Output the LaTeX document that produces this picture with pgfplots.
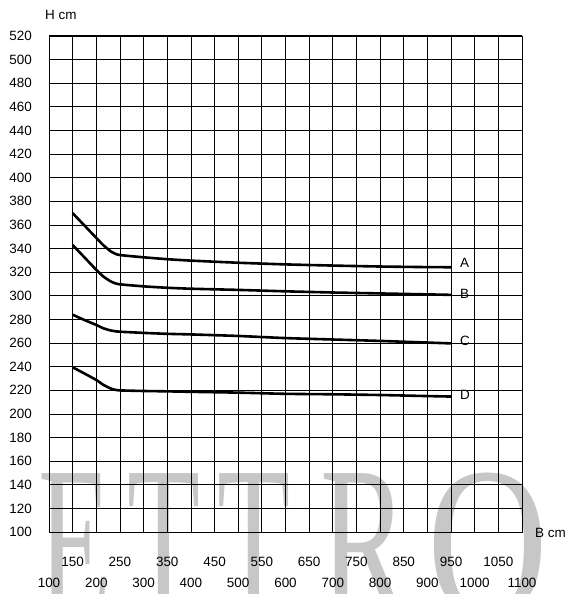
\documentclass[border=0pt]{standalone}
\usepackage{pgfplots}
\pgfplotsset{compat=1.18}
\usepackage{fontspec}
\setmainfont{Liberation Sans}
\newfontfamily\wmfont{Liberation Serif}
\newcommand{\low}[1]{\raisebox{-21bp}[\height][0pt]{#1}}
\begin{document}
\fontsize{13.5}{16}\selectfont
\begin{tikzpicture}
% watermark
\begin{scope}[every node/.style={anchor=north west, inner sep=0pt, text=black!22}]
\node at (-11bp,59bp) {\scalebox{1}[1.8]{\wmfont\fontsize{120}{120}\selectfont E}};
\node at (78bp,59bp) {\scalebox{1}[1.8]{\wmfont\fontsize{120}{120}\selectfont T}};
\node at (168bp,59bp) {\scalebox{1}[1.8]{\wmfont\fontsize{120}{120}\selectfont T}};
\node at (271bp,59bp) {\scalebox{1.1}[1.8]{\wmfont\fontsize{120}{120}\selectfont R}};
\node at (378bp,59bp) {\scalebox{1.4}[1.8]{\wmfont\fontsize{120}{120}\selectfont O}};
\end{scope}
\begin{axis}[
  scale only axis,
  width=473bp, height=496bp,
  at={(0,0)}, anchor=south west,
  xmin=100, xmax=1100, ymin=100, ymax=520,
  xtick={100,150,...,1100},
  xticklabels={\low{100},150,\low{200},250,\low{300},350,\low{400},450,\low{500},550,\low{600},650,\low{700},750,\low{800},850,\low{900},950,\low{1000},1050,\low{1100}},
  ytick={100,120,...,520},
  grid=major,
  major grid style={black, line width=0.8pt},
  axis line style={black, line width=0.8pt},
  major tick length=0pt,
  /pgf/number format/1000 sep={},
  /pgf/number format/assume math mode=true,
  every tick label/.append style={font=\fontsize{13.5}{16}\selectfont},
  xticklabel style={anchor=north, inner sep=0pt, yshift=-25bp},
  yticklabel style={anchor=east, inner sep=0pt, xshift=-17bp},
  clip=false,
]
\addplot[black, line width=2.6bp, smooth, tension=0.35] coordinates {
(150,370) (175,359.5) (200,349) (215,342.8) (230,337.8) (240,335.6) (250,334.5) (300,332.6) (350,331) (400,329.8) (500,328) (600,326.6) (700,325.6) (800,324.8) (900,324.3) (950,324.2)};
\addplot[black, line width=2.6bp, smooth, tension=0.35] coordinates {
(150,343) (175,332.5) (200,322) (215,316.3) (230,312.3) (240,310.6) (250,309.7) (300,308) (350,306.8) (400,306) (500,305) (600,303.8) (700,302.8) (800,302) (900,301.2) (950,300.8)};
\addplot[black, line width=2.6bp, smooth, tension=0.35] coordinates {
(150,284) (175,279.5) (200,275.3) (215,272.5) (230,270.7) (240,270) (250,269.6) (300,268.6) (350,267.8) (400,267.3) (500,266) (600,264.2) (700,263) (800,261.8) (900,260.4) (950,259.7)};
\addplot[black, line width=2.6bp, smooth, tension=0.35] coordinates {
(150,239.5) (175,234.2) (200,228.7) (215,224.6) (230,221.6) (240,220.4) (250,219.9) (300,219.4) (350,219.1) (400,218.7) (500,218) (600,217) (700,216.6) (800,216) (900,215.1) (950,214.7)};
\draw[black, line width=2bp] (rel axis cs:0,1) -- (rel axis cs:1,1);
\node[anchor=west, inner sep=0pt] at (axis cs:969,327.5) {A};
\node[anchor=west, inner sep=0pt] at (axis cs:969,302) {B};
\node[anchor=west, inner sep=0pt] at (axis cs:969,262) {C};
\node[anchor=west, inner sep=0pt] at (axis cs:969,216.5) {D};
\end{axis}
\node[anchor=west, inner sep=0pt] at (-4bp,517bp) {H cm};
\node[anchor=west, inner sep=0pt] at (486bp,-1bp) {B cm};
\pgfresetboundingbox
\useasboundingbox (-49bp,-62bp) rectangle (519bp,532bp);
\end{tikzpicture}
\end{document}
